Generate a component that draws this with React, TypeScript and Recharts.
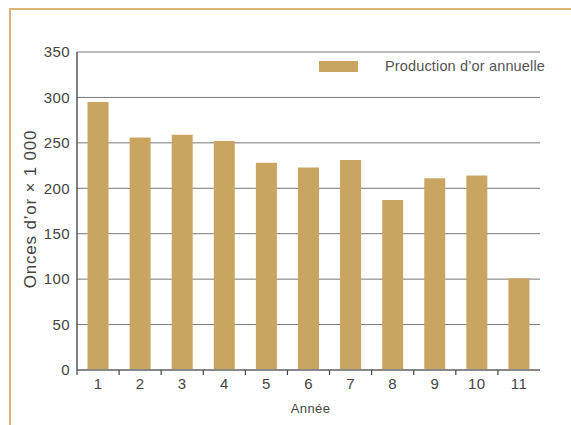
import React from 'react';
import { BarChart, Bar, XAxis, YAxis, CartesianGrid, Legend, Label } from 'recharts';

const years = ['1', '2', '3', '4', '5', '6', '7', '8', '9', '10', '11'];
const production = [295, 256, 259, 252, 228, 223, 231, 187, 211, 214, 101];
const yTicks = [0, 50, 100, 150, 200, 250, 300, 350];
const seriesName = "Production d\u2019or annuelle";
const yTitle = "Onces d\u2019or \u00d7 1 000";
const xTitle = 'Ann\u00e9e';

const data = years.map((y, i) => ({ year: y, value: production[i] }));

const FONT = '"Liberation Sans", Arial, Helvetica, sans-serif';
const GOLD = '#caa562';

const XTick = (props: any) => {
  const { x, y, payload } = props;
  const off = payload && payload.offset ? payload.offset : 0;
  return (
    <g>
      <line x1={x - off} x2={x - off} y1={y - 8} y2={y - 3} stroke="#444" strokeWidth={1.2} />
      <text x={x} y={y} dy="0.71em" textAnchor="middle" fill="#444" fontSize={15} fontFamily={FONT} letterSpacing={0.4}>
        {payload.value}
      </text>
    </g>
  );
};

const LegendContent = () => (
  <div style={{ display: 'flex', alignItems: 'center', fontFamily: FONT }}>
    <div style={{ width: 39, height: 11, background: GOLD, marginRight: 27 }} />
    <span style={{ fontSize: 14.5, color: '#555', whiteSpace: 'nowrap', letterSpacing: 0.15 }}>{seriesName}</span>
  </div>
);

export default function App() {
  return (
    <div style={{ position: 'absolute', left: 0, top: 0, width: 571, height: 425, background: '#fff' }}>
      <div
        style={{
          position: 'absolute',
          left: 9,
          top: 8,
          width: 562,
          height: 417,
          borderTop: '2px solid #dbb476',
          borderLeft: '2px solid #dbb476',
          boxSizing: 'border-box',
        }}
      />
      <div style={{ position: 'absolute', left: 0, top: 0 }}>
        <BarChart
          width={571}
          height={425}
          data={data}
          margin={{ top: 52, right: 31, left: 27, bottom: 25 }}
          barCategoryGap="25%"
        >
          <CartesianGrid vertical={false} stroke="#777" strokeWidth={1} />
          <XAxis
            dataKey="year"
            height={30}
            tickSize={4}
            tickMargin={4}
            tickLine={false}
            tick={<XTick />}
            axisLine={{ stroke: '#888', strokeWidth: 2 }}
            interval={0}
          >
            <Label value={xTitle} position="center" dy={23} dx={2} fill="#444" fontSize={13} fontFamily={FONT} letterSpacing={0.4} />
          </XAxis>
          <YAxis
            domain={[0, 350]}
            ticks={yTicks}
            width={50}
            tickLine={false}
            tickSize={5}
            tickMargin={2}
            axisLine={{ stroke: '#555', strokeWidth: 1.5 }}
            tick={{ fill: '#444', fontSize: 15, fontFamily: FONT, letterSpacing: 0.4 }}
            interval={0}
          >
            <Label
              value={yTitle}
              angle={-90}
              position="center"
              dx={-22}
              dy={-2}
              fill="#444"
              fontSize={17}
              fontFamily={FONT}
              letterSpacing={0.8}
            />
          </YAxis>
          <Legend
            layout="vertical"
            verticalAlign="middle"
            align="center"
            content={<LegendContent />}
            wrapperStyle={{ left: 319, top: 58, width: 'auto' }}
          />
          <Bar dataKey="value" name={seriesName} fill={GOLD} isAnimationActive={false} />
        </BarChart>
      </div>
    </div>
  );
}
